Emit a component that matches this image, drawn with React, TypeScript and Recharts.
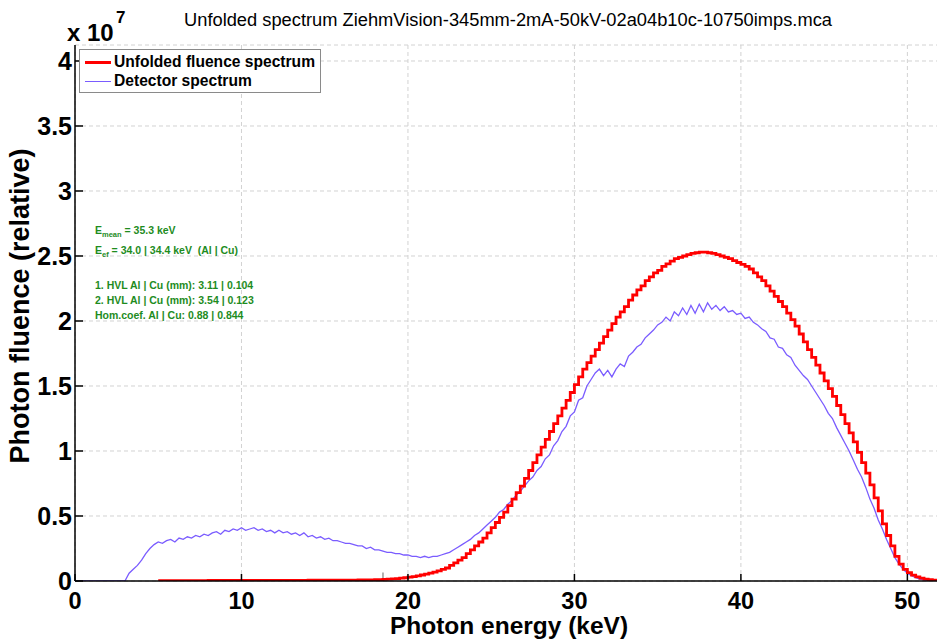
import React from "react";
import { LineChart, Line, XAxis, YAxis, CartesianGrid, ReferenceLine } from "recharts";

// Energy grid: 0.25 keV bins
const BIN_KEV = 0.25;

// Detector spectrum (units of 1e7), one row per keV: k, k+.25, k+.5, k+.75 — starts at 0 keV
const detectorSpectrum: number[] = [
  0, 0, 0, 0,
  0, 0, 0, 0,
  0, 0, 0, 0,
  0, 0.06, 0.09, 0.12,
  0.16, 0.21, 0.25, 0.28,
  0.30, 0.29, 0.31, 0.32,
  0.30, 0.33, 0.32, 0.34,
  0.33, 0.35, 0.34, 0.36,
  0.35, 0.37, 0.38, 0.36,
  0.39, 0.38, 0.40, 0.39,
  0.41, 0.39, 0.40, 0.41,
  0.39, 0.40, 0.38, 0.39,
  0.37, 0.39, 0.37, 0.38,
  0.36, 0.37, 0.35, 0.37,
  0.34, 0.35, 0.33, 0.34,
  0.32, 0.33, 0.31, 0.31,
  0.30, 0.29, 0.29, 0.28,
  0.27, 0.27, 0.25, 0.26,
  0.24, 0.24, 0.23, 0.22,
  0.22, 0.21, 0.21, 0.20,
  0.20, 0.19, 0.19, 0.18,
  0.19, 0.18, 0.19, 0.19,
  0.20, 0.21, 0.22, 0.24,
  0.26, 0.28, 0.30, 0.32,
  0.35, 0.37, 0.40, 0.43,
  0.46, 0.49, 0.53, 0.55,
  0.59, 0.62, 0.66, 0.69,
  0.73, 0.77, 0.80, 0.85,
  0.88, 0.94, 0.97, 1.04,
  1.08, 1.15, 1.19, 1.27,
  1.30, 1.39, 1.41, 1.50,
  1.55, 1.60, 1.63, 1.58,
  1.62, 1.57, 1.63, 1.67,
  1.65, 1.73, 1.76, 1.80,
  1.82, 1.87, 1.90, 1.93,
  1.97, 1.99, 2.03, 2.00,
  2.07, 2.04, 2.10, 2.05,
  2.12, 2.06, 2.13, 2.07,
  2.14, 2.09, 2.12, 2.08,
  2.11, 2.07, 2.08, 2.05,
  2.06, 2.02, 2.03, 1.99,
  1.97, 1.94, 1.92, 1.87,
  1.86, 1.80, 1.79, 1.74,
  1.72, 1.66, 1.62, 1.58,
  1.55, 1.50, 1.45, 1.40,
  1.35, 1.29, 1.25, 1.18,
  1.12, 1.06, 1.00, 0.93,
  0.86, 0.80, 0.72, 0.63,
  0.56, 0.47, 0.40, 0.32,
  0.25, 0.18, 0.13, 0.09,
  0.06, 0.04, 0.025, 0.015,
  0.008, 0.004, 0.002, 0.001,
  0,
];

// Unfolded fluence spectrum (units of 1e7), starts at 5 keV
const UNFOLDED_START_KEV = 5;
const unfoldedSpectrum: number[] = [
  0.003, 0.003, 0.003, 0.003,
  0.003, 0.003, 0.003, 0.003,
  0.003, 0.003, 0.003, 0.003,
  0.004, 0.004, 0.004, 0.004,
  0.004, 0.004, 0.004, 0.004,
  0.004, 0.004, 0.004, 0.004,
  0.004, 0.004, 0.004, 0.004,
  0.005, 0.005, 0.005, 0.005,
  0.005, 0.005, 0.005, 0.005,
  0.006, 0.006, 0.006, 0.006,
  0.006, 0.006, 0.006, 0.006,
  0.007, 0.007, 0.007, 0.007,
  0.008, 0.008, 0.009, 0.009,
  0.010, 0.011, 0.013, 0.015,
  0.017, 0.019, 0.022, 0.025,
  0.030, 0.034, 0.040, 0.046,
  0.053, 0.060, 0.068, 0.078,
  0.090, 0.10, 0.12, 0.14,
  0.16, 0.18, 0.21, 0.24,
  0.27, 0.30, 0.33, 0.37,
  0.41, 0.45, 0.49, 0.53,
  0.58, 0.63, 0.68, 0.73,
  0.79, 0.85, 0.91, 0.97,
  1.03, 1.09, 1.15, 1.21,
  1.27, 1.33, 1.39, 1.45,
  1.51, 1.57, 1.63, 1.68,
  1.73, 1.78, 1.83, 1.88,
  1.93, 1.98, 2.03, 2.07,
  2.11, 2.16, 2.20, 2.24,
  2.27, 2.31, 2.34, 2.37,
  2.39, 2.42, 2.44, 2.46,
  2.48, 2.49, 2.50, 2.51,
  2.52, 2.525, 2.53, 2.53,
  2.525, 2.52, 2.51, 2.50,
  2.49, 2.48, 2.465, 2.45,
  2.435, 2.42, 2.40, 2.37,
  2.34, 2.31, 2.27, 2.23,
  2.19, 2.15, 2.11, 2.06,
  2.01, 1.96, 1.90, 1.84,
  1.78, 1.72, 1.66, 1.60,
  1.54, 1.48, 1.42, 1.35,
  1.28, 1.21, 1.14, 1.07,
  0.99, 0.91, 0.83, 0.74,
  0.64, 0.54, 0.44, 0.35,
  0.27, 0.19, 0.13, 0.09,
  0.065, 0.045, 0.032, 0.022,
  0.015, 0.010, 0.006, 0.003,
];

const xTicks = [0, 10, 20, 30, 40, 50];
const yTicks = [0, 0.5, 1, 1.5, 2, 2.5, 3, 3.5, 4];
const yTickLabels = ["0", "0.5", "1", "1.5", "2", "2.5", "3", "3.5", "4"];

const titleText = "Unfolded spectrum ZiehmVision-345mm-2mA-50kV-02a04b10c-10750imps.mca";
const seriesNames = ["Unfolded fluence spectrum", "Detector spectrum"];
const xLabel = "Photon energy (keV)";
const yLabel = "Photon fluence (relative)";

const stats = {
  eMean: "35.3",
  eEf: "34.0 | 34.4",
  hvl1: "3.11 | 0.104",
  hvl2: "3.54 | 0.123",
  hom: "0.88 | 0.844",
};

const unfStartIdx = Math.round(UNFOLDED_START_KEV / BIN_KEV);
const data = detectorSpectrum.map((det, i) => {
  const j = i - unfStartIdx;
  return {
    e: i * BIN_KEV,
    det,
    unf: j >= 0 && j < unfoldedSpectrum.length ? unfoldedSpectrum[j] : null,
  };
});

const FONT = "'Liberation Sans', Arial, Helvetica, sans-serif";
const RED = "#ff0000";
const BLUE = "#7a5cff";
const GREEN = "#1e8c1e";

const XTickBottom = (props: any) => {
  const { x, y, payload } = props;
  return (
    <g>
      <line x1={x} x2={x} y1={y} y2={y - 7} stroke="#000" strokeWidth={1.5} />
      <text x={x} y={y + 28} textAnchor="middle" fontSize={23.5} fontWeight="bold" fontFamily={FONT} fill="#000">
        {payload.value}
      </text>
    </g>
  );
};

const XTickTop = (props: any) => {
  const { x, y } = props;
  return <line x1={x} x2={x} y1={y} y2={y + 7} stroke="#000" strokeWidth={1.5} />;
};

const YTickLeft = (props: any) => {
  const { x, y, payload, index } = props;
  return (
    <g>
      <line x1={x} x2={x + 8} y1={y} y2={y} stroke="#000" strokeWidth={1.5} />
      <text x={x - 3} y={y + 9} textAnchor="end" fontSize={25} fontWeight="bold" fontFamily={FONT} fill="#000">
        {yTickLabels[index] ?? payload.value}
      </text>
    </g>
  );
};

const YTickRight = (props: any) => {
  const { x, y } = props;
  return <line x1={x} x2={x - 8} y1={y} y2={y} stroke="#000" strokeWidth={1.5} />;
};

export default function App() {
  const greenLine: React.CSSProperties = {
    position: "absolute",
    left: 95,
    fontFamily: FONT,
    fontWeight: "bold",
    fontSize: 10.5,
    color: GREEN,
    whiteSpace: "nowrap",
    lineHeight: "12px",
  };
  return (
    <div style={{ position: "absolute", left: 0, top: 0, width: 937, height: 639, overflow: "hidden", background: "#fff" }}>
      <LineChart
        width={945}
        height={639}
        data={data}
        margin={{ top: 45, right: 1, bottom: 0, left: 0 }}
      >
        <CartesianGrid stroke="#d2d2d2" strokeDasharray="4 3" strokeWidth={1} />
        <XAxis
          dataKey="e"
          type="number"
          domain={[0, 52.2]}
          ticks={xTicks}
          allowDataOverflow
          height={58}
          tickSize={0}
          tickMargin={0}
          tickLine={false}
          axisLine={{ stroke: "#000", strokeWidth: 1.5 }}
          tick={<XTickBottom />}
          interval={0}
        />
        <XAxis
          xAxisId="top"
          dataKey="e"
          type="number"
          orientation="top"
          domain={[0, 52.2]}
          ticks={xTicks}
          allowDataOverflow
          height={0}
          tickSize={0}
          tickMargin={0}
          tickLine={false}
          axisLine={{ stroke: "#000", strokeWidth: 1.5 }}
          tick={<XTickTop />}
          interval={0}
        />
        <YAxis
          type="number"
          domain={[0, 4.123]}
          ticks={yTicks}
          allowDataOverflow
          width={75}
          tickSize={0}
          tickMargin={0}
          tickLine={false}
          axisLine={{ stroke: "#000", strokeWidth: 1.5 }}
          tick={<YTickLeft />}
          interval={0}
        />
        <YAxis
          yAxisId="right"
          orientation="right"
          type="number"
          domain={[0, 4.123]}
          ticks={yTicks}
          allowDataOverflow
          width={0}
          tickSize={0}
          tickMargin={0}
          tickLine={false}
          axisLine={{ stroke: "#000", strokeWidth: 1.5 }}
          tick={<YTickRight />}
          interval={0}
        />
        <ReferenceLine
          segment={[{ x: 18.5, y: 0 }, { x: 18.5, y: 0.065 }]}
          stroke="#999"
          strokeWidth={1.5}
        />
        <Line
          dataKey="det"
          type="linear"
          stroke={BLUE}
          strokeWidth={1.3}
          dot={false}
          activeDot={false}
          isAnimationActive={false}
        />
        <Line
          dataKey="unf"
          type="stepAfter"
          stroke={RED}
          strokeWidth={2.8}
          dot={false}
          activeDot={false}
          connectNulls={false}
          isAnimationActive={false}
        />
      </LineChart>

      {/* Title */}
      <div style={{ position: "absolute", left: 508, top: 9, transform: "translateX(-50%)", fontFamily: FONT, fontSize: 18.3, whiteSpace: "nowrap", color: "#000", lineHeight: "21px" }}>
        {titleText}
      </div>
      {/* Exponent */}
      <div style={{ position: "absolute", left: 67, top: 19, fontFamily: FONT, fontSize: 24, fontWeight: "bold", whiteSpace: "nowrap", color: "#000" }}>
        x 10
      </div>
      <div style={{ position: "absolute", left: 116, top: 9, fontFamily: FONT, fontSize: 17, fontWeight: "bold", color: "#000", lineHeight: "18px" }}>
        7
      </div>
      {/* X label */}
      <div style={{ position: "absolute", left: 509, top: 615, transform: "translateX(-50%)", fontFamily: FONT, fontSize: 24.5, fontWeight: "bold", whiteSpace: "nowrap", color: "#000", lineHeight: "21px" }}>
        {xLabel}
      </div>
      {/* Y label */}
      <div style={{ position: "absolute", left: 20, top: 306, transform: "translate(-50%, -50%) rotate(-90deg)", fontFamily: FONT, fontSize: 27, fontWeight: "bold", whiteSpace: "nowrap", color: "#000", lineHeight: "30px" }}>
        {yLabel}
      </div>

      {/* Legend */}
      <div style={{ position: "absolute", left: 79, top: 49, width: 240, height: 42, border: "1px solid #8a8a8a", background: "#fff", fontFamily: FONT, fontWeight: "bold", fontSize: 15.6, color: "#000" }}>
        <div style={{ position: "absolute", left: 5, top: 11, width: 26, height: 3, background: RED }} />
        <div style={{ position: "absolute", left: 34, top: 2, whiteSpace: "nowrap", lineHeight: "20px" }}>{seriesNames[0]}</div>
        <div style={{ position: "absolute", left: 5, top: 31, width: 26, height: 1.3, background: BLUE }} />
        <div style={{ position: "absolute", left: 34, top: 21, whiteSpace: "nowrap", lineHeight: "20px" }}>{seriesNames[1]}</div>
      </div>

      {/* Statistics annotation */}
      <div style={{ ...greenLine, top: 224 }}>
        E<sub style={{ fontSize: 7.5, verticalAlign: "-3px" }}>mean</sub> = {stats.eMean} keV
      </div>
      <div style={{ ...greenLine, top: 244 }}>
        E<sub style={{ fontSize: 7.5, verticalAlign: "-3px" }}>ef</sub> = {stats.eEf} keV&nbsp;&nbsp;(Al | Cu)
      </div>
      <div style={{ ...greenLine, top: 279 }}>1. HVL Al | Cu (mm): {stats.hvl1}</div>
      <div style={{ ...greenLine, top: 294 }}>2. HVL Al | Cu (mm): {stats.hvl2}</div>
      <div style={{ ...greenLine, top: 309 }}>Hom.coef. Al | Cu: {stats.hom}</div>
    </div>
  );
}
